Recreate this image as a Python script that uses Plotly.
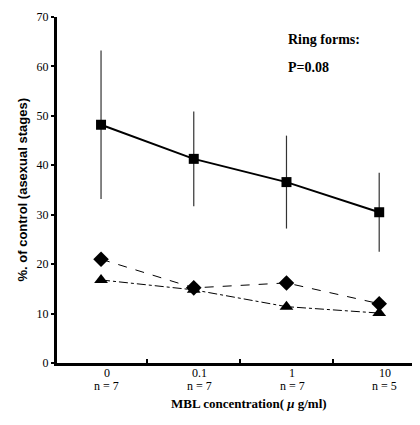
import plotly.graph_objects as go

categories = ["0", "0.1", "1", "10"]
n_labels = ["n = 7", "n = 7", "n = 7", "n = 5"]
squares = [48.2, 41.3, 36.6, 30.5]
squares_err = [15.0, 9.6, 9.4, 8.0]
diamonds = [21.0, 15.2, 16.2, 12.0]
triangles = [16.8, 14.8, 11.4, 10.1]
y_ticks = [0, 10, 20, 30, 40, 50, 60, 70]

xi = list(range(len(categories)))
serif = "Liberation Serif"

fig = go.Figure()
fig.add_trace(go.Scatter(
    x=xi, y=squares, mode="lines+markers",
    line=dict(color="black", width=2),
    marker=dict(symbol="square", size=10, color="black"),
    error_y=dict(type="data", array=squares_err, visible=True,
                 color="#333", thickness=1.2, width=0),
    showlegend=False))
fig.add_trace(go.Scatter(
    x=xi, y=diamonds, mode="lines+markers",
    line=dict(color="black", width=1, dash="dash"),
    marker=dict(symbol="diamond", size=12, color="black"),
    showlegend=False))
fig.add_trace(go.Scatter(
    x=xi, y=triangles, mode="lines+markers",
    line=dict(color="black", width=1, dash="dashdot"),
    marker=dict(symbol="triangle-up", size=12, color="black"),
    showlegend=False))

annotations = []
for i, (c, n) in enumerate(zip(categories, n_labels)):
    annotations.append(dict(x=i + 0.06, y=0, xref="x", yref="paper",
                            yshift=-19, text=c, showarrow=False,
                            font=dict(family=serif, size=12, color="black")))
    annotations.append(dict(x=i + 0.06, y=0, xref="x", yref="paper",
                            yshift=-32, text=n, showarrow=False,
                            font=dict(family=serif, size=12, color="black")))
annotations.append(dict(x=0.5, y=0, xref="paper", yref="paper", yshift=-40,
                        xshift=10, yanchor="middle",
                        text="<b>MBL concentration( <i>μ</i> g/ml)</b>",
                        showarrow=False,
                        font=dict(family=serif, size=13, color="black")))
annotations.append(dict(x=2.0, y=65.5, xref="x", yref="y", xanchor="left",
                        text="<b>Ring forms:</b>", showarrow=False,
                        font=dict(family=serif, size=14, color="black")))
annotations.append(dict(x=2.0, y=59.8, xref="x", yref="y", xanchor="left",
                        text="<b>P=0.08</b>", showarrow=False,
                        font=dict(family=serif, size=14, color="black")))
annotations.append(dict(x=0, y=0.5, xref="paper", yref="paper", xshift=-45,
                        textangle=-90,
                        text="<b>%. of control (asexual stages)</b>",
                        showarrow=False,
                        font=dict(family="Liberation Sans",
                                  size=13, color="black")))

fig.update_layout(
    width=412, height=417,
    margin=dict(l=49, r=0, t=9, b=62),
    paper_bgcolor="white", plot_bgcolor="white",
    annotations=annotations,
    xaxis=dict(range=[-0.475, 3.44], tickvals=[0.5, 1.5, 2.5],
               ticktext=["", "", ""], ticks="inside", ticklen=4,
               tickcolor="black", tickwidth=1.5,
               showline=True, linecolor="black", linewidth=3,
               showgrid=False, zeroline=False),
    yaxis=dict(range=[0, 70], tickvals=y_ticks, ticks="outside",
               ticklen=3, tickcolor="black", tickwidth=1.5,
               showline=True, linecolor="black", linewidth=3,
               showgrid=False, zeroline=False,
               tickfont=dict(family=serif, size=12, color="black")),
)

fig.write_html("out.html")
